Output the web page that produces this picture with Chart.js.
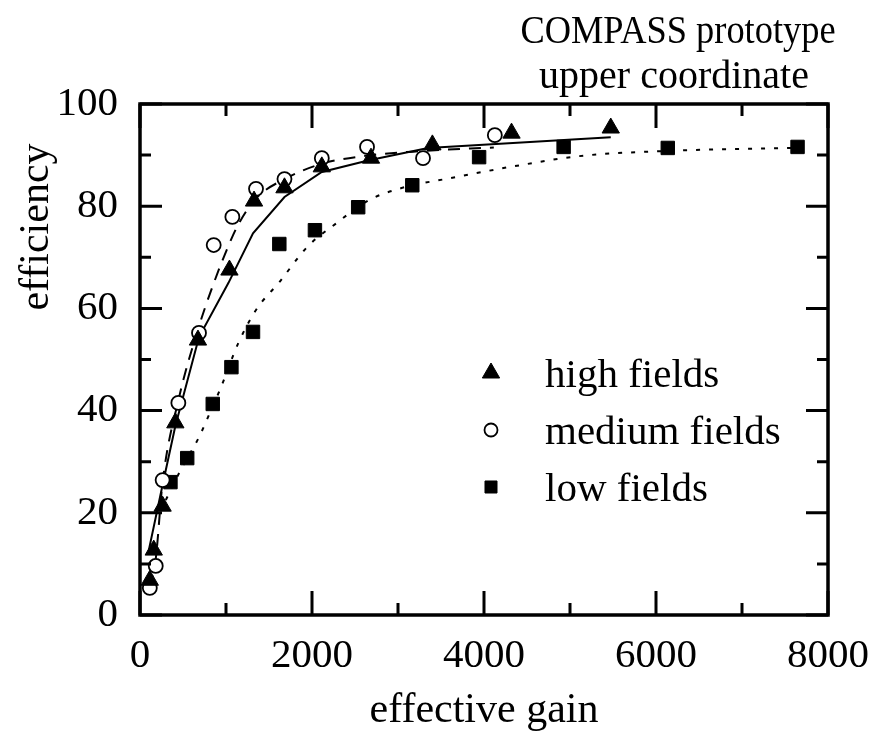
<!DOCTYPE html>
<html>
<head>
<meta charset="utf-8">
<script src="https://cdn.jsdelivr.net/npm/chart.js@4.4.1/dist/chart.umd.min.js"></script>
<style>
  html, body { margin: 0; padding: 0; background: #fff; }
  canvas { display: block; }
</style>
</head>
<body>
<canvas id="gainChart" width="886" height="736"></canvas>
<script>
// measured points (effective gain / efficiency %)
const highGain = [114, 160, 263, 411, 674, 1040, 1326, 1680, 2114, 2686, 3400, 4320, 5474];
const highEff = [6.8, 12.7, 21.3, 37.6, 53.8, 67.5, 81.0, 83.6, 87.7, 89.4, 92.0, 94.3, 95.3];

const mediumGain = [114, 183, 263, 446, 686, 857, 1074, 1349, 1680, 2114, 2640, 3291, 4126];
const mediumEff = [5.3, 9.6, 26.4, 41.5, 55.2, 72.4, 77.9, 83.4, 85.3, 89.4, 91.6, 89.4, 93.9];

const lowGain = [354, 549, 846, 1063, 1314, 1620, 2034, 2537, 3166, 3943, 4926, 6137, 7646];
const lowEff = [26.0, 30.7, 41.3, 48.5, 55.4, 72.6, 75.3, 79.8, 84.1, 89.6, 91.6, 91.4, 91.6];

// fit curves
const highFitGain = [100, 263, 411, 686, 1029, 1314, 1680, 2114, 2663, 3349, 5474];
const highFitEff = [12.5, 25.5, 37.0, 54.4, 65.0, 74.7, 81.8, 86.7, 89.0, 91.4, 93.5];

const mediumFitGain = [110, 183, 263, 446, 686, 870, 1010, 1130, 1349, 1680, 2114, 2640, 3291, 4114];
const mediumFitEff = [5.5, 11, 26, 42, 56.5, 65.5, 71.5, 76, 81.5, 85.3, 88.3, 89.9, 90.8, 91.5];

const lowFitGain = [300, 480, 686, 777, 937, 1143, 1349, 1623, 1943, 2286, 2663, 3051, 3577, 4343, 5109, 6091, 7577];
const lowFitEff = [22.5, 28.6, 34.8, 38.2, 44.4, 53.2, 59.7, 65.2, 72, 76.7, 81.2, 83.6, 85.4, 87.8, 89.8, 90.8, 91.4];

const xMajorTicks = [0, 2000, 4000, 6000, 8000];
const xMinorTicks = [1000, 3000, 5000, 7000];
const yMajorTicks = [0, 20, 40, 60, 80, 100];
const yMinorTicks = [10, 30, 50, 70, 90];

const legendLabels = ["high fields", "medium fields", "low fields"];
const titleLines = ["COMPASS prototype", "upper coordinate"];

const serif = "'Liberation Serif', 'Times New Roman', serif";

function toPoints(xs, ys) {
  return xs.map((x, i) => ({ x: x, y: ys[i] }));
}

const markerSets = [
  { label: legendLabels[0], data: toPoints(highGain, highEff), pointStyle: "triangle", pointRadius: 10,
    backgroundColor: "#000", borderColor: "#000", borderWidth: 1 },
  { label: legendLabels[1], data: toPoints(mediumGain, mediumEff), pointStyle: "circle", pointRadius: 7,
    backgroundColor: "#fff", borderColor: "#000", borderWidth: 1.8 },
  { label: legendLabels[2], data: toPoints(lowGain, lowEff), pointStyle: "rect", pointRadius: 9.5,
    backgroundColor: "#000", borderColor: "#000", borderWidth: 1 },
];

const fitSets = [
  { data: toPoints(highFitGain, highFitEff), borderDash: [], tension: 0 },
  { data: toPoints(mediumFitGain, mediumFitEff), borderDash: [12, 9], cubicInterpolationMode: "monotone" },
  { data: toPoints(lowFitGain, lowFitEff), borderDash: [4, 9], cubicInterpolationMode: "monotone" },
];

// frame, inward ticks, legend and text labels
const decorations = {
  id: "decorations",
  afterDatasetsDraw(chart) {
    const { ctx, chartArea: a, scales: { x, y } } = chart;
    ctx.save();
    ctx.strokeStyle = "#000";
    ctx.lineWidth = 3.5;
    ctx.strokeRect(a.left, a.top, a.right - a.left, a.bottom - a.top);

    ctx.lineWidth = 3;
    const tickX = (vals, len) => vals.forEach(v => {
      const px = x.getPixelForValue(v);
      ctx.beginPath();
      ctx.moveTo(px, a.bottom); ctx.lineTo(px, a.bottom - len);
      ctx.moveTo(px, a.top); ctx.lineTo(px, a.top + len);
      ctx.stroke();
    });
    const tickY = (vals, len) => vals.forEach(v => {
      const py = y.getPixelForValue(v);
      ctx.beginPath();
      ctx.moveTo(a.left, py); ctx.lineTo(a.left + len, py);
      ctx.moveTo(a.right, py); ctx.lineTo(a.right - len, py);
      ctx.stroke();
    });
    tickX(xMajorTicks, 24);
    tickX(xMinorTicks, 12);
    tickY(yMajorTicks, 22);
    tickY(yMinorTicks, 11);

    // legend inside plot
    const legendSizes = [10, 6.5, 8.5];
    markerSets.forEach((ds, i) => {
      const my = 373 + i * 57;
      ctx.fillStyle = ds.backgroundColor;
      ctx.strokeStyle = ds.borderColor;
      ctx.lineWidth = ds.borderWidth;
      Chart.helpers.drawPoint(ctx, { pointStyle: ds.pointStyle, radius: legendSizes[i], borderWidth: ds.borderWidth, rotation: 0 }, 491, my);
      ctx.fillStyle = "#000";
      ctx.font = "41px " + serif;
      ctx.textAlign = "left";
      ctx.textBaseline = "alphabetic";
      ctx.fillText(ds.label, 545, my + 14);
    });

    // y axis title
    ctx.save();
    ctx.translate(37, 227);
    ctx.rotate(-Math.PI / 2);
    ctx.font = "42px " + serif;
    ctx.textAlign = "center";
    ctx.textBaseline = "middle";
    ctx.fillStyle = "#000";
    ctx.fillText("efficiency", 0, 0);
    ctx.restore();

    // title in the top right; first line is set narrow in the original
    ctx.fillStyle = "#000";
    ctx.textAlign = "center";
    ctx.textBaseline = "alphabetic";
    ctx.font = "40px " + serif;
    ctx.save();
    ctx.translate(678, 43);
    ctx.scale(0.91, 1);
    ctx.fillText(titleLines[0], 0, 0);
    ctx.restore();
    ctx.fillText(titleLines[1], 674, 88);
    ctx.restore();
  }
};

new Chart(document.getElementById("gainChart"), {
  type: "scatter",
  data: {
    datasets: [
      ...markerSets.map(ds => ({ ...ds, order: 0 })),
      ...fitSets.map(ds => ({
        ...ds,
        showLine: true,
        pointRadius: 0,
        borderColor: "#000",
        borderWidth: 2,
        fill: false,
        order: 1,
      })),
    ],
  },
  options: {
    responsive: false,
    animation: false,
    layout: { padding: { top: 104, right: 47, left: 0, bottom: 0 } },
    plugins: { legend: { display: false }, tooltip: { enabled: false } },
    scales: {
      x: {
        type: "linear",
        min: 0,
        max: 8000,
        grid: { display: false, drawTicks: false },
        border: { display: false },
        afterFit: (scale) => { scale.height = 121; },
        ticks: {
          stepSize: 2000,
          padding: 17,
          color: "#000",
          font: { family: serif, size: 41 },
          callback: (value) => String(value),
        },
        title: {
          display: true,
          text: "effective gain",
          color: "#000",
          font: { family: serif, size: 42, lineHeight: 1 },
          padding: { top: 0, bottom: 4 },
        },
      },
      y: {
        type: "linear",
        min: 0,
        max: 100,
        grid: { display: false, drawTicks: false },
        border: { display: false },
        afterFit: (scale) => { scale.width = 140; },
        ticks: {
          stepSize: 20,
          padding: 22,
          color: "#000",
          font: { family: serif, size: 41 },
          callback: (value) => String(value),
        },
      },
    },
  },
  plugins: [decorations],
});
</script>
</body>
</html>
